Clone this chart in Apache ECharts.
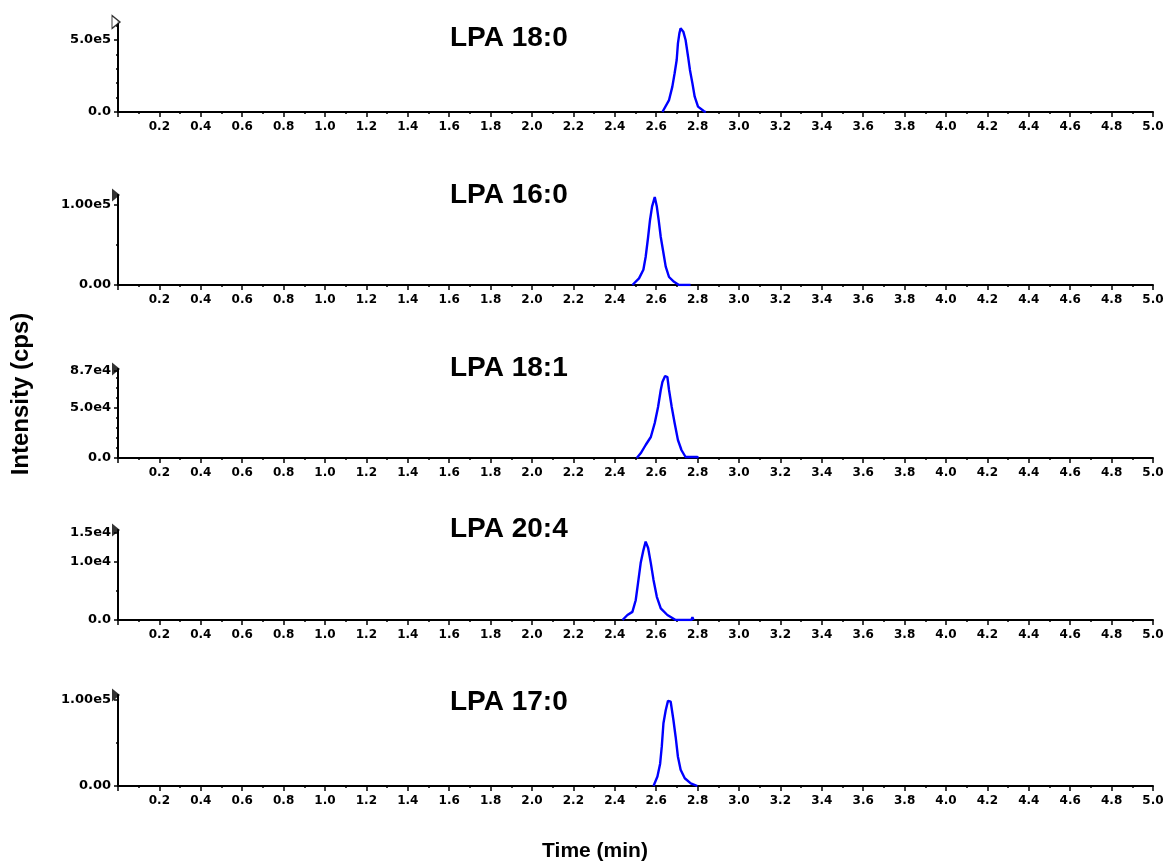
<!DOCTYPE html>
<html>
<head>
<meta charset="utf-8">
<script src="https://cdn.jsdelivr.net/npm/echarts@6/dist/echarts.min.js"></script>
<style>
html,body{margin:0;padding:0;background:#fff;}
#chart{width:1167px;height:864px;}
</style>
</head>
<body>
<div id="chart"></div>
<script>
// ---- Data ----
const panelNames = ['LPA 18:0', 'LPA 16:0', 'LPA 18:1', 'LPA 20:4', 'LPA 17:0'];

const time1 = [2.630, 2.662, 2.678, 2.689, 2.699, 2.705, 2.712, 2.718, 2.731, 2.742, 2.754, 2.763, 2.775, 2.786, 2.802, 2.831, 2.840];
const int1  = [0, 8.3e4, 1.76e5, 2.69e5, 3.61e5, 4.77e5, 5.46e5, 5.81e5, 5.58e5, 5.0e5, 3.84e5, 2.92e5, 1.99e5, 1.06e5, 3.7e4, 5e3, 0];

const time2 = [2.485, 2.517, 2.538, 2.549, 2.561, 2.570, 2.580, 2.593, 2.603, 2.612, 2.622, 2.635, 2.646, 2.662, 2.686, 2.710, 2.750, 2.758, 2.766];
const int2  = [0, 8.3e3, 1.9e4, 3.5e4, 6.0e4, 8.1e4, 9.8e4, 1.10e5, 9.8e4, 8.1e4, 6.0e4, 4.0e4, 2.3e4, 1.0e4, 4e3, 0, 0, 2e3, 0];

const time3 = [2.506, 2.525, 2.549, 2.574, 2.593, 2.609, 2.622, 2.630, 2.643, 2.654, 2.662, 2.675, 2.689, 2.705, 2.722, 2.742, 2.799, 2.803];
const int3  = [0, 4.7e3, 1.3e4, 2.1e4, 3.5e4, 5.1e4, 6.8e4, 7.6e4, 8.2e4, 8.1e4, 6.8e4, 5.1e4, 3.5e4, 1.8e4, 8e3, 1e3, 1e3, 0];

const time4 = [2.437, 2.461, 2.485, 2.501, 2.512, 2.525, 2.538, 2.549, 2.561, 2.574, 2.587, 2.603, 2.622, 2.654, 2.694, 2.770, 2.775, 2.780];
const int4  = [0, 860, 1.4e3, 3.4e3, 6.3e3, 9.8e3, 1.2e4, 1.35e4, 1.24e4, 9.8e3, 6.9e3, 4.0e3, 2.0e3, 860, 0, 0, 500, 0];

const time5 = [2.587, 2.606, 2.619, 2.627, 2.635, 2.646, 2.657, 2.670, 2.683, 2.694, 2.705, 2.718, 2.738, 2.767, 2.799];
const int5  = [0, 1.1e4, 2.6e4, 4.6e4, 7.3e4, 8.8e4, 9.9e4, 9.8e4, 7.7e4, 5.7e4, 3.4e4, 1.9e4, 9e3, 3e3, 0];

const times = [time1, time2, time3, time4, time5];
const intensities = [int1, int2, int3, int4, int5];

const xMin = 0, xMax = 5.0, xInterval = 0.2;
const yMax = [6.25e5, 1.125e5, 8.9e4, 1.55e4, 1.058e5];
const yTickValues = [[0, 5e5], [0, 1e5], [0, 5e4, 8.7e4], [0, 1e4, 1.5e4], [0, 1e5]];
const yTickLabels = [['0.0', '5.0e5'], ['0.00', '1.00e5'], ['0.0', '5.0e4', '8.7e4'], ['0.0', '1.0e4', '1.5e4'], ['0.00', '1.00e5']];
const yMinorValues = [[1e5, 2e5, 3e5, 4e5, 6e5], [5e4], [1e4, 2e4, 3e4, 4e4, 6e4, 7e4, 8e4], [5e3], [5e4]];
const markerOpen = [true, false, false, false, false];

// ---- Layout ----
const gridTops = [22, 195, 369, 530, 695];
const gridBottoms = [112, 285, 458, 620, 786];
const titleCenters = [39, 196, 369, 530, 703];
const gridLeft = 118, gridRight = 14;

const grids = [], xAxes = [], yAxes = [], series = [], titles = [];
const labelFont = 'DejaVu Sans';

for (let p = 0; p < 5; p++) {
  grids.push({left: gridLeft, right: gridRight, top: gridTops[p], height: gridBottoms[p] - gridTops[p], outerBoundsMode: 'none'});
  xAxes.push({
    type: 'value', gridIndex: p, min: xMin, max: xMax, interval: xInterval,
    axisLine: {show: true, onZero: false, lineStyle: {color: '#000', width: 2}},
    axisTick: {show: true, length: 5, lineStyle: {color: '#000', width: 1.5}},
    minorTick: {show: true, splitNumber: 2, length: 2, lineStyle: {color: '#000', width: 1.5}},
    splitLine: {show: false}, minorSplitLine: {show: false},
    axisLabel: {
      show: true, margin: 9, color: '#000', fontFamily: labelFont, fontWeight: 'bold', fontSize: 12,
      showMinLabel: false,
      formatter: v => (v === 0 ? '' : v.toFixed(1))
    }
  });
  const vals = yTickValues[p], labs = yTickLabels[p];
  yAxes.push({
    type: 'value', gridIndex: p, min: 0, max: yMax[p], position: 'left',
    axisLine: {show: true, onZero: false, lineStyle: {color: '#000', width: 2}},
    axisTick: {show: true, length: 4, customValues: vals, lineStyle: {color: '#000', width: 1.5}},
    splitLine: {show: false},
    axisLabel: {
      show: true, margin: 7, color: '#000', fontFamily: labelFont, fontWeight: 'bold', fontSize: 13,
      customValues: vals,
      formatter: v => { const i = vals.indexOf(v); return i >= 0 ? labs[i] : ''; }
    }
  });
  yAxes.push({
    type: 'value', gridIndex: p, min: 0, max: yMax[p], position: 'left',
    axisLine: {show: false},
    axisTick: {show: true, length: 2, customValues: yMinorValues[p], lineStyle: {color: '#000', width: 1.5}},
    splitLine: {show: false},
    axisLabel: {show: false}
  });
  series.push({
    type: 'line', xAxisIndex: p, yAxisIndex: 2 * p,
    data: times[p].map((t, i) => [t, intensities[p][i]]),
    symbol: 'none', lineStyle: {color: '#0000ff', width: 2.4}, itemStyle: {color: '#0000ff'},
    animation: false, z: 3
  });
  series.push({
    type: 'scatter', xAxisIndex: p, yAxisIndex: 2 * p,
    data: [[xMin, yMax[p]]],
    symbol: 'triangle', symbolSize: [13, 8], symbolRotate: -90, symbolOffset: [-2, 0],
    itemStyle: markerOpen[p] ? {color: '#fff', borderColor: '#000', borderWidth: 1.2} : {color: '#000'},
    clip: false, animation: false, silent: true, z: 4
  });
  titles.push({
    text: panelNames[p], left: 450, top: titleCenters[p] - 15,
    textStyle: {fontFamily: 'Liberation Sans', fontWeight: 'bold', fontSize: 28, color: '#000'},
    padding: 0
  });
}

const chart = echarts.init(document.getElementById('chart'), null, {renderer: 'canvas'});
chart.setOption({
  backgroundColor: '#fff',
  animation: false,
  title: titles,
  grid: grids,
  xAxis: xAxes,
  yAxis: yAxes,
  series: series,
  graphic: [
    {type: 'text', x: 21, y: 394, rotation: Math.PI / 2,
     style: {text: 'Intensity (cps)', fontFamily: 'Liberation Sans', fontWeight: 'bold', fontSize: 24, fill: '#000', align: 'center', verticalAlign: 'middle'}},
    {type: 'text', x: 595, y: 851,
     style: {text: 'Time (min)', fontFamily: 'Liberation Sans', fontWeight: 'bold', fontSize: 21, fill: '#000', align: 'center', verticalAlign: 'middle'}}
  ]
});
</script>
</body>
</html>
